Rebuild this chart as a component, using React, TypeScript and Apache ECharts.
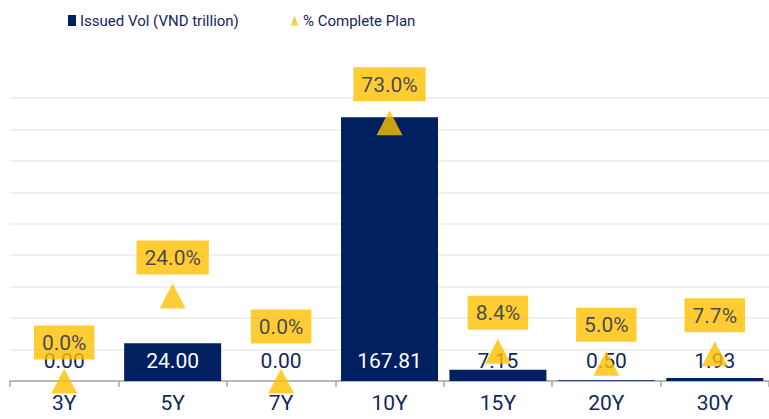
import React, { useEffect, useRef } from "react";
import * as echarts from "echarts";

const categories = ["3Y", "5Y", "7Y", "10Y", "15Y", "20Y", "30Y"];
const issuedVol = [0, 24.0, 0, 167.81, 7.15, 0.5, 1.93];
const completePlan = [0, 24.0, 0, 73.0, 8.4, 5.0, 7.7];

const NAVY = "#002060";
const GOLD = "#FFC000";
const TEXT = "#13275c";
const FONT = "Roboto";

export default function App() {
  const ref = useRef<HTMLDivElement>(null);
  useEffect(() => {
    if (!ref.current) return;
    const chart = echarts.init(ref.current, null, { renderer: "svg" });
    chart.setOption({
      animation: false,
      textStyle: { fontFamily: FONT },
      legend: [
        {
          data: [{ name: "Issued Vol (VND trillion)", icon: "rect" }],
          left: 63,
          top: 8,
          itemWidth: 8,
          itemHeight: 11,
          itemGap: 4,
          textStyle: { color: TEXT, fontSize: 15, fontFamily: FONT, padding: [0, 0, 0, -1] },
        },
        {
          data: [{ name: "% Complete Plan", icon: "triangle" }],
          left: 286,
          top: 8,
          itemWidth: 7,
          itemHeight: 10,
          textStyle: { color: TEXT, fontSize: 15, fontFamily: FONT },
        },
      ],
      grid: { left: 10, width: 760, top: 98, height: 283, containLabel: false },
      xAxis: {
        type: "category",
        data: categories,
        axisLine: { show: true, lineStyle: { color: "#a6a6a6", width: 1.5 } },
        axisTick: { show: true, length: 6, lineStyle: { color: "#a6a6a6", width: 1.5 } },
        axisLabel: { color: TEXT, fontSize: 21, margin: 11, fontFamily: FONT },
      },
      yAxis: [
        {
          type: "value",
          min: 0,
          max: 180,
          interval: 20,
          axisLabel: { show: false },
          axisLine: { show: false },
          axisTick: { show: false },
          splitLine: { show: true, lineStyle: { color: "#ebebeb", width: 1.5 } },
        },
        {
          type: "value",
          min: 0,
          max: 80,
          interval: 10,
          axisLabel: { show: false },
          axisLine: { show: false },
          axisTick: { show: false },
          splitLine: { show: false },
        },
      ],
      series: [
        {
          name: "Issued Vol (VND trillion)",
          type: "bar",
          yAxisIndex: 0,
          z: 2,
          barWidth: 97,
          itemStyle: { color: NAVY },
          data: issuedVol.map((v) => ({
            value: v,
            label: { color: v > 20 ? "#ffffff" : TEXT },
          })),
          label: {
            show: true,
            position: "insideBottom",
            distance: 10,
            fontSize: 21,
            fontFamily: FONT,
            formatter: (p: any) => Number(p.value).toFixed(2),
          },
        },
        {
          name: "% Complete Plan",
          type: "scatter",
          yAxisIndex: 1,
          z: 5,
          symbol: "triangle",
          symbolSize: [26, 25],
          itemStyle: { color: GOLD },
          data: completePlan.map((v, i) =>
            i === 2 ? { value: v, label: { offset: [0, -16] } } : { value: v }
          ),
          label: {
            show: true,
            position: "top",
            distance: 9,
            fontSize: 21,
            fontFamily: FONT,
            color: TEXT,
            backgroundColor: GOLD,
            padding: [5, 8, 4, 8],
            lineHeight: 25,
            formatter: (p: any) => Number(p.value).toFixed(1) + "%",
          },
        },
      ],
    });
    return () => chart.dispose();
  }, []);
  return <div ref={ref} style={{ width: 769, height: 419, position: "absolute", left: 0, top: 0 }} />;
}
